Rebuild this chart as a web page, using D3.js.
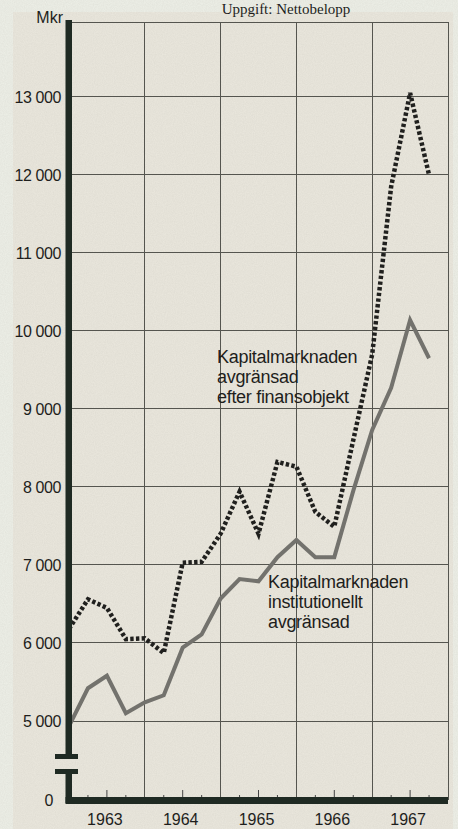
<!DOCTYPE html>
<meta charset="utf-8">
<html>
<head>
<style>
body { margin: 0; background: #eef0e8; }
text { font-family: "Liberation Sans", Arial, sans-serif; fill: #1e1e1c; }
.grid line { stroke: #55554f; stroke-width: 1; shape-rendering: crispEdges; }
.year { font-size: 16px; text-anchor: middle; }
.lbl { font-size: 18px; letter-spacing: -0.3px; }
</style>
<script src="https://cdnjs.cloudflare.com/ajax/libs/d3/7.8.5/d3.min.js"></script>
</head>
<body>
<svg width="458" height="829"></svg>
<script>
// quarterly values, Mkr, from Q1 1963 to Q4 1967
var quarters = d3.range(20).map(function(i) { return 1963 + i * 0.25; });
var finansobjekt = [6180, 6560, 6450, 6050, 6060, 5870, 7030, 7040, 7400, 7940,
                    7400, 8320, 8260, 7680, 7490, 8600, 9700, 11850, 13050, 12000];
var institutionellt = [4680, 5420, 5580, 5100, 5240, 5330, 5940, 6110, 6570, 6820,
                       6790, 7100, 7320, 7100, 7100, 7950, 8730, 9270, 10140, 9650];
var years = [1963, 1964, 1965, 1966, 1967];
var yTicks = [5000, 6000, 7000, 8000, 9000, 10000, 11000, 12000, 13000];

var svg = d3.select("svg");

var x = d3.scaleLinear().domain([1963, 1968]).range([69, 448]);
// broken axis: 0 sits under the break, the scale runs from 5000 up
var y = d3.scaleLinear().domain([0, 5000, 13960]).range([800, 721, 22]);

var fmt = d3.formatLocale({decimal: ",", thousands: " ", grouping: [3], currency: ["", ""]}).format(",d");

// paper
var defs = svg.append("defs");
var f = defs.append("filter").attr("id", "grain");
f.append("feTurbulence").attr("type", "fractalNoise").attr("baseFrequency", 0.9).attr("numOctaves", 2).attr("seed", 4);
f.append("feColorMatrix").attr("values", "0 0 0 0 0.35  0 0 0 0 0.34  0 0 0 0 0.3  0 0 0 0.16 0");

svg.append("rect").attr("x", 13).attr("y", 12).attr("width", 440).attr("height", 817).attr("fill", "#ebe8de");
svg.append("rect").attr("x", 13).attr("y", 12).attr("width", 440).attr("height", 817).attr("filter", "url(#grain)");

// heading of the page, cut by the scan in the original
svg.append("text").attr("x", 286).attr("y", 14).attr("text-anchor", "middle")
    .style("font-family", "'Liberation Serif', 'Times New Roman', serif").style("font-size", "15px")
    .text("Uppgift: Nettobelopp");

// grid
var grid = svg.append("g").attr("class", "grid");
grid.selectAll(".h").data(yTicks.concat([13960])).enter().append("line")
    .attr("x1", x(1963)).attr("x2", x(1968))
    .attr("y1", function(d) { return y(d); }).attr("y2", function(d) { return y(d); });
grid.selectAll(".v").data(years.slice(1).concat([1968])).enter().append("line")
    .attr("x1", function(d) { return x(d); }).attr("x2", function(d) { return x(d); })
    .attr("y1", y(13960)).attr("y2", y(0));

// quarter ticks on the x axis
var qt = [];
years.forEach(function(yr) { [0.25, 0.5, 0.75].forEach(function(q) { qt.push(yr + q); }); });
svg.append("g").selectAll("line").data(qt).enter().append("line")
    .attr("x1", function(d) { return x(d); }).attr("x2", function(d) { return x(d); })
    .attr("y1", y(0)).attr("y2", function(d) { return y(0) - (d % 1 === 0.5 ? 10 : 5); })
    .attr("stroke", "#444").attr("stroke-width", 1);

// y axis labels
var yAxis = d3.axisLeft(y).tickValues([0].concat(yTicks)).tickSize(0).tickPadding(8).tickFormat(fmt);
var ya = svg.append("g").attr("transform", "translate(" + x(1963) + ",0)").call(yAxis);
ya.select(".domain").remove();
ya.selectAll("text").attr("fill", null).style("font-size", "16px").style("letter-spacing", "-0.4px")
    .attr("dy", "0.36em")
    .filter(function(d) { return d === 0; }).attr("x", -16);

svg.append("text").attr("x", 63).attr("y", 23).attr("text-anchor", "end").style("font-size", "16px").text("Mkr");

// x axis labels
svg.append("g").selectAll("text").data(years).enter().append("text")
    .attr("class", "year")
    .attr("x", function(d) { return x(d + 0.5) - 2; })
    .attr("y", 825)
    .text(function(d) { return d; });

// series
var line = d3.line()
    .x(function(d, i) { return x(quarters[i]); })
    .y(function(d) { return y(d); });

svg.append("path").datum(institutionellt)
    .attr("d", line).attr("fill", "none")
    .attr("stroke", "#73726d").attr("stroke-width", 4).attr("stroke-linejoin", "miter");

svg.append("path").datum(finansobjekt)
    .attr("d", line).attr("fill", "none")
    .attr("stroke", "#20201e").attr("stroke-width", 4.5).attr("stroke-dasharray", "3.4,2.3");

// heavy axes with break
var ax = svg.append("g").attr("fill", "#1f2a23");
ax.append("rect").attr("x", x(1963) - 3.5).attr("y", y(13960) - 2).attr("width", 6.5).attr("height", 757 - y(13960) + 2);
ax.append("rect").attr("x", x(1963) - 3.5).attr("y", 771).attr("width", 6.5).attr("height", y(0) - 771 + 3);
ax.append("rect").attr("x", 55).attr("y", 754).attr("width", 23).attr("height", 5);
ax.append("rect").attr("x", 55).attr("y", 769).attr("width", 23).attr("height", 5);
ax.append("rect").attr("x", x(1963) - 3.5).attr("y", y(0) - 3).attr("width", x(1968) - x(1963) + 3.5).attr("height", 7);

// series labels
function label(lines, lx, ly) {
  svg.append("text").attr("class", "lbl").attr("x", lx).attr("y", ly)
    .selectAll("tspan").data(lines).enter().append("tspan")
      .attr("x", lx).attr("dy", function(d, i) { return i ? 19.8 : 0; })
      .text(function(d) { return d; });
}
label(["Kapitalmarknaden", "avgränsad", "efter finansobjekt"], 217, 363);
label(["Kapitalmarknaden", "institutionellt", "avgränsad"], 268, 588);
</script>
</body>
</html>
